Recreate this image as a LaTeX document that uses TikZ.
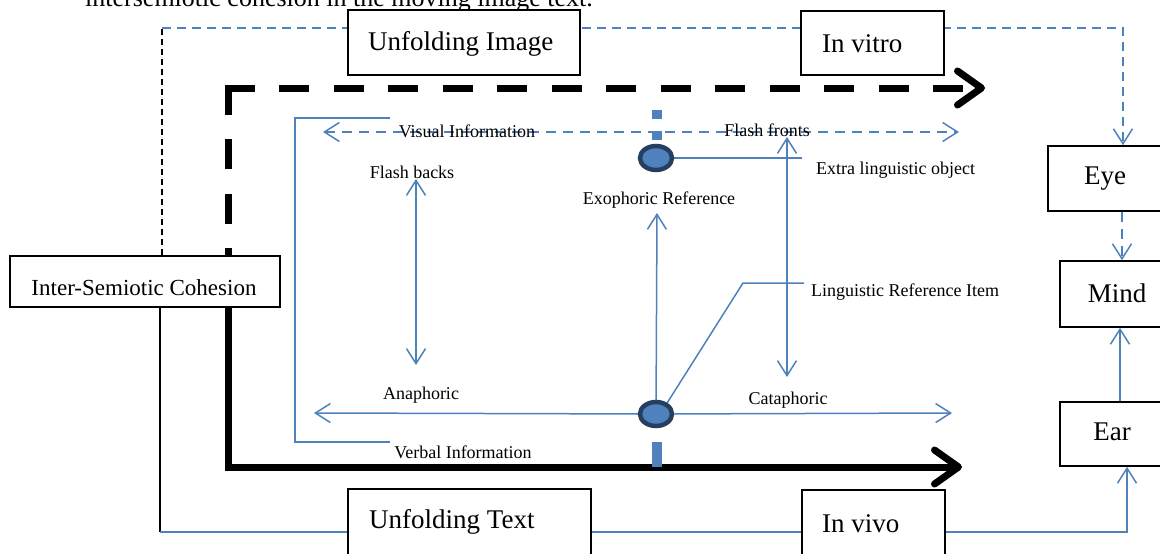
\documentclass[tikz,border=0pt]{standalone}
\usepackage{fontspec}
\setmainfont{Liberation Serif}
\usetikzlibrary{arrows.meta,shapes.geometric}
\definecolor{ob}{HTML}{4F81BD}
\definecolor{obd}{HTML}{243F60}
\pgfdeclarelayer{bg}
\pgfsetlayers{bg,main}
\begin{document}
\begin{tikzpicture}[x=1pt,y=-1pt,
  box/.style={draw=black,line width=1.6pt,fill=white,inner sep=0pt},
  big/.style={font=\fontsize{27}{30}\selectfont,inner sep=0pt},
  mid/.style={font=\fontsize{23}{26}\selectfont,inner sep=0pt},
  lbl/.style={font=\fontsize{18}{20}\selectfont,inner sep=0pt},
  bl/.style={draw=ob,line width=1.5pt},
  bdash/.style={draw=ob,line width=1.5pt,dash pattern=on 9pt off 6pt},
  tipb/.style={-{Straight Barb[length=15pt,width=19pt,line width=1.5pt]}},
  tipbb/.style={{Straight Barb[length=15pt,width=19pt,line width=1.5pt]}-{Straight Barb[length=15pt,width=19pt,line width=1.5pt]}},
  thk/.style={draw=black,line width=7pt},
  thktip/.style={-{Straight Barb[length=24pt,width=34pt,round]}},
  knot/.style={ellipse,fill=ob,draw=obd,line width=4.5pt,minimum width=32pt,minimum height=24pt,inner sep=0pt}
]
\useasboundingbox (0,0) rectangle (1160,554);
\clip (0,0) rectangle (1160,554);

% caption line cut off at the top
\node[anchor=base west,font=\fontsize{26}{30}\selectfont,inner sep=0pt] (cap) at (85,6) {intersemiotic cohesion in the moving image text.};

% boxes
\node[box,minimum width=232pt,minimum height=65pt] (ui) at (464,42.5) {};
\node[big,anchor=west] at (368,44) {Unfolding Image};
\node[box,minimum width=143pt,minimum height=64pt] (iv) at (872.5,43) {};
\node[big,anchor=west] at (822,44) {In vitro};
\node[box,minimum width=127pt,minimum height=65pt] (eye) at (1111.5,178.5) {};
\node[big] at (1105,179) {Eye};
\node[box,minimum width=115pt,minimum height=66pt] (mind) at (1117.5,294) {};
\node[big] at (1117,293) {Mind};
\node[box,minimum width=115pt,minimum height=64pt] (ear) at (1117.5,434) {};
\node[big] at (1112,432) {Ear};
\node[box,minimum width=270pt,minimum height=51pt] (isc) at (145,281.5) {};
\node[mid] at (144,288) {Inter-Semiotic Cohesion};
\node[box,minimum width=243pt,minimum height=76pt] (ut) at (469.5,527) {};
\node[big,anchor=west] at (369,522) {Unfolding Text};
\node[box,minimum width=143pt,minimum height=75pt] (vv) at (873.5,527.5) {};
\node[big,anchor=west] at (822,524) {In vivo};

% knots
\node[knot] (top) at (656,158) {};
\node[knot] (bot) at (656,414) {};

% labels
\node[lbl] (vis) at (467,131) {Visual Information};
\node[lbl] (ffr) at (767,130) {Flash fronts};
\node[lbl] (fbk) at (412,172) {Flash backs};
\node[lbl,anchor=west] (elo) at (816,170) {Extra linguistic object};
\node[lbl] (exo) at (659,200) {Exophoric Reference};
\node[lbl,anchor=west] (lri) at (811,292) {Linguistic Reference Item};
\node[lbl] (ana) at (421,395) {Anaphoric};
\node[lbl] (cat) at (788,400) {Cataphoric};
\node[lbl] (vbi) at (463,452) {Verbal Information};

% named points
\coordinate (tl) at (162,28);
\coordinate (tr) at (1123,28);
\coordinate (bl) at (160,532);
\coordinate (br) at (1127,532);
\coordinate (c1) at (228,88);
\coordinate (a1) at (985,88);
\coordinate (c2) at (228,467);
\coordinate (a2) at (962,467);
\coordinate (bk1) at (390,118);
\coordinate (bk2) at (295,118);
\coordinate (bk3) at (295,442);
\coordinate (bk4) at (390,442);
\coordinate (vl) at (323,132);
\coordinate (vr) at (959,132);
\coordinate (fb1) at (416,179);
\coordinate (fb2) at (416,365);
\coordinate (ff1) at (787,137);
\coordinate (ff2) at (787,377);
\coordinate (ex) at (657,213);
\coordinate (el) at (802,158);
\coordinate (lk) at (743,283);
\coordinate (le) at (804,283);
\coordinate (al) at (314,413);
\coordinate (ar) at (952,413);
\coordinate (sq1) at (657,110);
\coordinate (sq2) at (657,140);
\coordinate (sq3) at (657,442);
\coordinate (sq4) at (657,467);

\begin{pgfonlayer}{bg}
  % top route: cohesion -> image -> eye
  \draw[black,line width=1.2pt,dash pattern=on 6pt off 4pt] (isc.north -| tl) -- (tl);
  \draw[bdash,tipb] (tl) -- (tr) -- (eye.north -| tr);
  % bottom route: cohesion -> text -> ear
  \draw[black,line width=1.5pt] (isc.south -| bl) -- (bl);
  \draw[bl,tipb] (bl) -- (br) -- (ear.south -| br);
  % eye/ear -> mind
  \draw[draw=ob,line width=2pt,dash pattern=on 10pt off 7pt,tipb] (eye.south -| 1122,0) -- (mind.north -| 1122,0);
  \draw[bl,tipb] (ear.north -| 1120,0) -- (mind.south -| 1120,0);
  % thick time arrows
  \draw[thk,line cap=rect,dash pattern=on 23pt off 31.5pt] (c1) -- (isc.north -| c1);
  \draw[thk,line cap=rect,dash pattern=on 23pt off 31.5pt,thktip] (c1) -- (a1);
  \draw[thk,thktip] (isc.south -| c2) -- (c2) -- (a2);
  % bracket
  \draw[bl] (bk1) -- (bk2) -- (bk3) -- (bk4);
  % visual information
  \draw[draw=ob,line width=1.5pt,dash pattern=on 10pt off 7pt,tipbb] (vl) -- (vr);
  % flash backs / fronts
  \draw[bl,tipbb] (fb1) -- (fb2);
  \draw[bl,tipbb] (ff1) -- (ff2);
  % exophoric
  \draw[bl,tipb] (bot) -- (ex);
  \draw[bl] (top) -- (el);
  % linguistic reference item
  \draw[bl] (bot.45) -- (lk) -- (le);
  % anaphoric / cataphoric
  \draw[bl,tipb] (bot) -- (al);
  \draw[bl,tipb] (bot) -- (ar);
  % thick blue marks
  \draw[draw=ob,line width=10pt,dash pattern=on 9pt off 12pt] (sq1) -- (sq2);
  \draw[draw=ob,line width=10pt] (sq3) -- (sq4);
\end{pgfonlayer}
\end{tikzpicture}
\end{document}
